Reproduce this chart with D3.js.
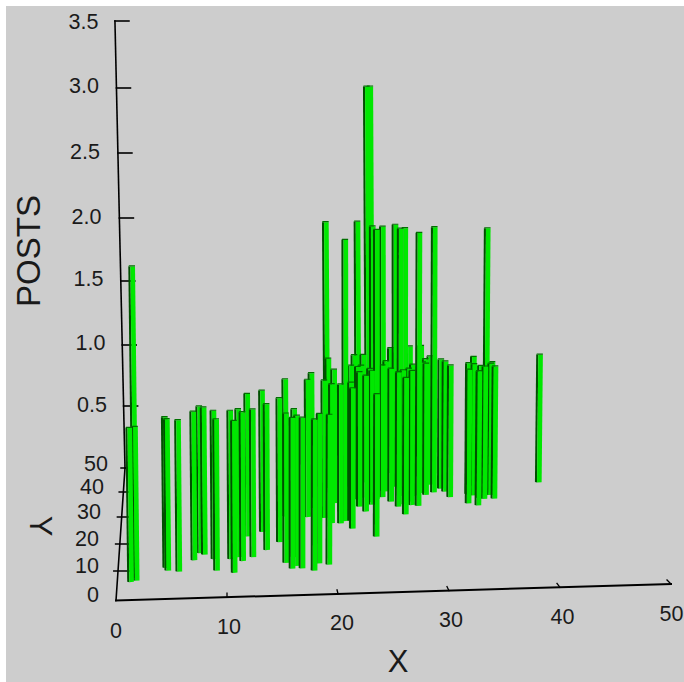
<!DOCTYPE html>
<html><head><meta charset="utf-8">
<script src="https://cdn.jsdelivr.net/npm/d3@7"></script>
<style>html,body{margin:0;padding:0;background:#fff;overflow:hidden}svg{display:block}text{font-family:"Liberation Sans",Arial,sans-serif;fill:#1a1a1a}</style>
</head><body><script>
const xTicks=[0,10,20,30,40,50];
const yTicks=[0,10,20,30,40,50];
const zTicks=[0,0.5,1,1.5,2,2.5,3,3.5];
const barX=[1.1,1.5,1.6,4.4,4.2,5.4,6.7,7.2,7.6,8.5,8.8,10,10.4,10.7,11.1,11.4,12,12.7,13.2,14.3,15,14.7,15.6,16,15.7,16.5,16.7,17.6,18,18.2,18.9,19,19.7,20.1,20.8,21.3,21.9,22.4,23,23.3,24.1,24.8,25.5,26,26.6,27.2,27.9,28.5,28.9,29.4,31.1,31.5,32,32.5,32.6,33.4,37.3,18.2,21,21.8,22.8,23.3,24.4,24.9,25.3,22.4,18.4,20.7,21.5,23.9,25.6,26.6,27.5,27.1,31.4,33.1,20.5,21.4,21.1,23.6,22.2,25.2,25.7,26,26.9,20.6,18.9,31,32.1,17,22.1,33];
const barY=[6.1,7.5,6.5,9.6,10.6,9.1,13.1,15.7,15.1,13.3,9.1,13.1,8.2,13.8,12.3,21.4,13.6,22.9,16.1,18.9,11.1,28.4,9,9.9,13.2,9,27.9,8.1,10.6,27.4,10,33,25.2,26,23.1,31.3,29.3,31.9,19.9,34.8,32.9,30.8,27.8,31.3,30.9,35.2,36.1,37.5,36.3,34,31.3,34.4,30.4,32.9,34.4,32.9,38.9,42.6,42.6,49.8,34.2,37.3,38.9,35.1,35.5,37.6,39.3,41,41,44.6,45.4,45.6,39.3,37.8,38.4,35.3,35,34.9,34.2,37.1,33,31.8,32.7,34.9,36,26,25.4,35,33.3,31.3,50,34.4];
const barPosts=[1,2,1,1,1,1,1,1,1,1,1,1,1,1,1,1,1,1,1,1,1,1,1,1,1,1,1,1,1,1,1,1,1,2,1,1,1,1,1,1,1,1,1,1,2,1,2,1,1,1,1,1,1,1,2,1,1,2,2,3,2,2,2,2,2,2,1,1,1,1,1,1,1,1,1,1,1,1,1,1,1,1,1,1,1,1,1,1,1,1,3,1];

const W=684,H=682,ox=116,oy=600.5;
const xRun=d3.scaleLinear().domain([0,50]).range([0,555]);
const xRise=d3.scaleLinear().domain([0,50]).range([0,16.5]);
const yRun=d3.scaleLinear().domain([0,50]).range([0,9]);
const yRise=d3.scaleLinear().domain(yTicks).range([0,29.5,56.5,83.5,108.5,132.5]);
const zRise=d3.scaleLinear().domain(zTicks).range([0,62,123,187,250,315,380,447]);
const depth=(x,y)=>1+(50-y)*0.0058-0.0007*x;
const lean=(x,y)=>-0.011-0.00023*y+0.0008*x;
function P(x,y,z){
  const h=zRise(z)*depth(x,y);
  return [ox+xRun(x)+yRun(y)+lean(x,y)*h, oy-xRise(x)-yRise(y)-h];
}
const svg=d3.select("body").append("svg").attr("width",W).attr("height",H);
svg.append("rect").attr("x",6).attr("y",6).attr("width",W-6).attr("height",H-6).attr("fill","#cdcdcd");
const axes=svg.append("g").attr("stroke","#000").attr("fill","none").attr("stroke-linecap","square");
function seg(a,b,w){axes.append("line").attr("x1",a[0]).attr("y1",a[1]).attr("x2",b[0]).attr("y2",b[1]).attr("stroke-width",w);}
seg(P(0,0,0),P(50,0,0),2);
seg(P(0,0,0),P(0,50,0),1.6);
seg(P(0,50,0),P(0,50,3.5),1.6);
xTicks.slice(1).forEach(v=>{const p=P(v,0,0);seg(p,[p[0]-(v-10)*0.1,p[1]-4],1.3);});
yTicks.slice(1).forEach(v=>{const p=P(0,v,0);seg([p[0]-4,p[1]],[p[0]+12,p[1]],1.5);});
zTicks.slice(1).forEach(v=>{const p=P(0,50,v);seg(p,[p[0]+14,p[1]],1.6);});

const dark=2.1,bright=4.6;
const bars=barX.map((x,i)=>({x,y:barY[i],p:barPosts[i]})).sort((a,b)=>b.y-a.y||a.x-b.x);
const g=svg.append("g");
bars.forEach(b=>{
  const a=P(b.x,b.y,0),t=P(b.x,b.y,b.p);
  const e=g.append("g");
  e.append("path").attr("fill","#005000").attr("d",`M${a[0]-dark},${a[1]-0.5}L${a[0]},${a[1]}L${t[0]},${t[1]}L${t[0]-dark},${t[1]}Z`);
  e.append("path").attr("fill","#00e800").attr("d",`M${a[0]},${a[1]}L${a[0]+bright},${a[1]-0.3}L${t[0]+bright},${t[1]}L${t[0]},${t[1]}Z`);
  e.append("path").attr("fill","#007000").attr("d",`M${t[0]-dark},${t[1]}L${t[0]+bright},${t[1]}L${t[0]+bright},${t[1]-1.2}L${t[0]-dark+0.6},${t[1]-1.2}Z`);
});

const fs=21.5;
function label(s,x,y,anchor,size,rot){
  const t=svg.append("text").text(s).attr("font-size",size).attr("text-anchor",anchor).attr("dominant-baseline","central");
  t.attr("transform",`translate(${x},${y})`+(rot?` rotate(${rot})`:""));
}
const xLabelPos=[[116,631],[229,627],[342,623],[451,620],[562.5,617],[671.5,614]];
xTicks.forEach((v,i)=>label(String(v),xLabelPos[i][0],xLabelPos[i][1],"middle",fs));
const yLabelPos=[[99,595],[99,566],[99,539],[101,511.5],[104,487],[108,464]];
yTicks.forEach((v,i)=>label(String(v),yLabelPos[i][0],yLabelPos[i][1],"end",fs));
const zLabelX=[107,105.5,103.5,101.5,100,99],zLabelY=[405,343,279,217,152,85.5];
const zLab=["0.5","1.0","1.5","2.0","2.5","3.0"];
zLab.forEach((s,i)=>label(s,zLabelX[i],zLabelY[i],"end",fs));
label("3.5",98.5,21.5,"end",fs);
label("POSTS",28,251,"middle",33,-90);
label("X",398,661,"middle",31);
label("Y",40,526,"middle",31,90);
</script></body></html>
